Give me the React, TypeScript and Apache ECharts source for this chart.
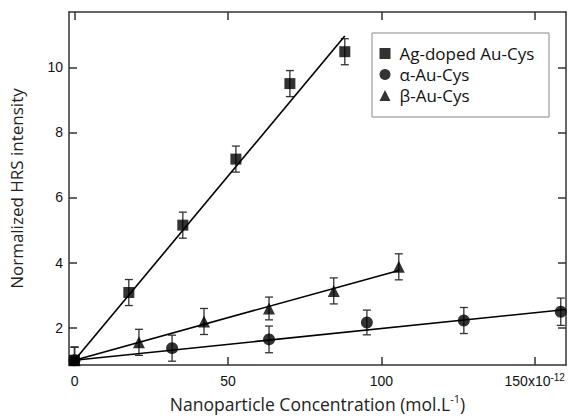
import React, { useEffect, useRef } from "react";
import * as echarts from "echarts";

// Ticks
const xTicks = [0, 50, 100, 150];
const yTicks = [2, 4, 6, 8, 10];

// Series names
const names = ["Ag-doped Au-Cys", "α-Au-Cys", "β-Au-Cys"];

// Ag-doped Au-Cys (squares)
const agX = [0, 17.7, 35.3, 52.6, 70.2, 88.1];
const agY = [1.0, 3.08, 5.15, 7.18, 9.5, 10.48];
const agErr = [0.4, 0.4, 0.4, 0.4, 0.4, 0.4];
const agFitX = [0, 88.1];
const agFitY = [1.0, 10.96];

// alpha-Au-Cys (circles)
const alX = [0, 31.8, 63.4, 95.3, 126.9, 158.5];
const alY = [1.0, 1.37, 1.64, 2.16, 2.22, 2.49];
const alErr = [0.4, 0.4, 0.41, 0.38, 0.4, 0.42];
const alFitX = [0, 160.2];
const alFitY = [1.0, 2.56];

// beta-Au-Cys (triangles)
const beX = [0, 21.0, 42.2, 63.4, 84.5, 105.7];
const beY = [1.0, 1.55, 2.19, 2.59, 3.13, 3.87];
const beErr = [0.4, 0.4, 0.4, 0.35, 0.4, 0.4];
const beFitX = [0, 105.7];
const beFitY = [1.0, 3.76];

const zip = (xs: number[], ys: number[]) => xs.map((x, i) => [x, ys[i]]);
const zip3 = (xs: number[], ys: number[], es: number[]) => xs.map((x, i) => [x, ys[i], es[i]]);

const FRAME = "#333";
const TICKFONT = "Liberation Sans";
const TITLEFONT = "Open Sans";

function errorSeries(data: number[][]) {
  return {
    type: "custom",
    clip: true,
    silent: true,
    z: 2,
    data,
    renderItem: (params: any, api: any) => {
      const x = api.value(0);
      const y = api.value(1);
      const e = api.value(2);
      const top = api.coord([x, y + e]);
      const bot = api.coord([x, y - e]);
      const hw = 4;
      const style = { stroke: "#333", lineWidth: 1.3 };
      return {
        type: "group",
        children: [
          { type: "line", shape: { x1: top[0], y1: top[1], x2: bot[0], y2: bot[1] }, style },
          { type: "line", shape: { x1: top[0] - hw, y1: top[1], x2: top[0] + hw, y2: top[1] }, style },
          { type: "line", shape: { x1: bot[0] - hw, y1: bot[1], x2: bot[0] + hw, y2: bot[1] }, style },
        ],
      };
    },
  };
}

function fitSeries(data: number[][]) {
  return {
    type: "line",
    data,
    symbol: "none",
    silent: true,
    z: 3,
    lineStyle: { color: "#000", width: 1.6 },
  };
}

export default function App() {
  const ref = useRef<HTMLDivElement>(null);
  useEffect(() => {
    if (!ref.current) return;
    const chart = echarts.init(ref.current, undefined, { renderer: "svg" });
    const xAxisBase = {
      type: "value",
      min: -1.8,
      max: 160.2,
      splitLine: { show: false },
      axisLine: { show: true, onZero: false, lineStyle: { color: FRAME, width: 1.5 } },
      axisTick: { show: true, inside: true, length: 8, customValues: xTicks, lineStyle: { color: FRAME, width: 1.5 } },
    };
    const yAxisBase = {
      type: "value",
      min: 0.85,
      max: 11.7,
      splitLine: { show: false },
      axisLine: { show: true, onZero: false, lineStyle: { color: FRAME, width: 1.5 } },
      axisTick: { show: true, inside: true, length: 8, customValues: yTicks, lineStyle: { color: FRAME, width: 1.5 } },
    };
    chart.setOption({
      animation: false,
      backgroundColor: "#fff",
      grid: { left: 68, right: 2, top: 12, bottom: 51 },
      graphic: [
        {
          type: "rect",
          z: 5,
          shape: { x: 372, y: 33, width: 177, height: 84 },
          style: { fill: "#fff", stroke: "#888", lineWidth: 1 },
        },
      ],
      xAxis: [
        {
          ...xAxisBase,
          position: "bottom",
          name: "{t|Nanoparticle Concentration (mol.L}{s|-1}{t|)}",
          nameLocation: "middle",
          nameGap: 26,
          nameTextStyle: {
            rich: {
              t: { fontFamily: TITLEFONT, fontSize: 17.5, color: "#222", lineHeight: 22 },
              s: { fontFamily: TITLEFONT, fontSize: 11, color: "#222", verticalAlign: "top", lineHeight: 14 },
            },
          },
          axisLabel: {
            show: true,
            customValues: xTicks,
            margin: 7,
            formatter: (v: number) => (v === 150 ? "{n|150x10}{s|-12}" : "{n|" + v + "}"),
            rich: {
              n: { fontFamily: TICKFONT, fontSize: 14, color: "#111", lineHeight: 18 },
              s: { fontFamily: TICKFONT, fontSize: 10, color: "#111", verticalAlign: "top", lineHeight: 12 },
            },
          },
        },
        { ...xAxisBase, position: "top", axisLabel: { show: false } },
      ],
      yAxis: [
        {
          ...yAxisBase,
          position: "left",
          name: "Normalized HRS intensity",
          nameLocation: "middle",
          nameGap: 44,
          nameTextStyle: { fontFamily: TITLEFONT, fontSize: 17, color: "#222" },
          axisLabel: {
            show: true,
            customValues: yTicks,
            margin: 6,
            fontFamily: TICKFONT,
            fontSize: 14,
            color: "#111",
          },
        },
        { ...yAxisBase, position: "right", axisLabel: { show: false } },
      ],
      legend: {
        data: names,
        orient: "vertical",
        left: 379.5,
        top: 43,
        padding: 0,
        itemGap: 0,
        itemWidth: 11,
        itemHeight: 11,
        z: 10,
        borderWidth: 0,
        textStyle: { fontFamily: TITLEFONT, fontSize: 17, color: "#111", lineHeight: 21, padding: [0, 0, 0, 4] },
      },
      series: [
        fitSeries(zip(alFitX, alFitY)),
        fitSeries(zip(beFitX, beFitY)),
        fitSeries(zip(agFitX, agFitY)),
        errorSeries(zip3(alX, alY, alErr)),
        errorSeries(zip3(beX, beY, beErr)),
        errorSeries(zip3(agX, agY, agErr)),
        {
          name: names[1],
          type: "scatter",
          symbol: "circle",
          symbolSize: 12,
          z: 4,
          itemStyle: { color: "#000" },
          data: zip(alX, alY),
        },
        {
          name: names[2],
          type: "scatter",
          symbol: "triangle",
          symbolSize: 12,
          z: 4,
          itemStyle: { color: "#000" },
          data: zip(beX, beY),
        },
        {
          name: names[0],
          type: "scatter",
          symbol: "rect",
          symbolSize: 11,
          z: 5,
          itemStyle: { color: "#000" },
          data: zip(agX, agY),
        },
      ],
    });
    return () => chart.dispose();
  }, []);
  return (
    <div
      ref={ref}
      style={{ position: "fixed", left: 0, top: 0, width: 568, height: 418, background: "#fff" }}
    />
  );
}
